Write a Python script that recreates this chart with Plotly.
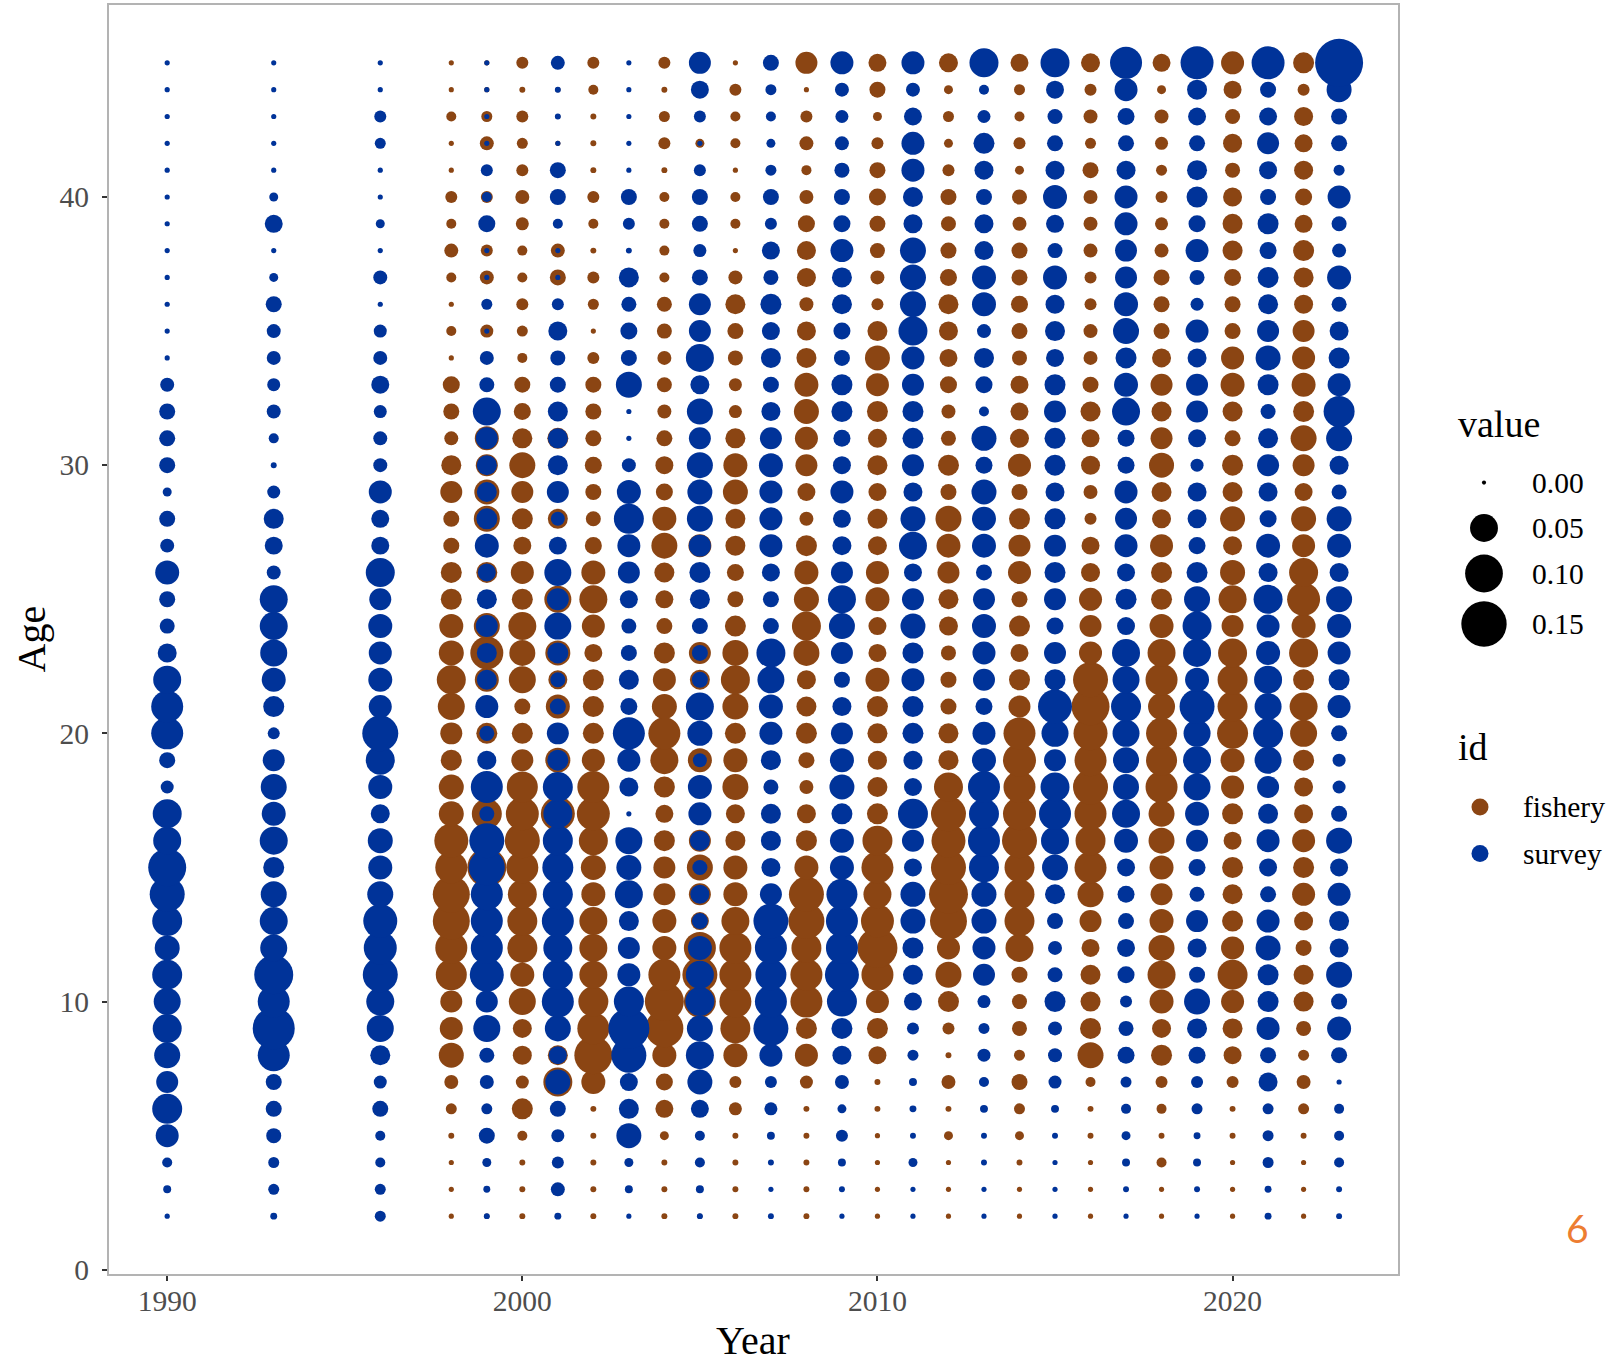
import numpy as np
import plotly.graph_objects as go

# ---------------- data ----------------
ages = list(range(2, 46))  # ages 2..45

survey_years = [1990, 1993, 1996, 1999, 2001, 2003, 2005, 2007, 2009, 2011,
                2013, 2015, 2017, 2019, 2021, 2023]
fishery_years = [1998, 1999, 2000, 2001, 2002, 2004, 2005, 2006, 2008, 2010,
                 2012, 2014, 2016, 2018, 2020, 2022]

# survey proportions at age (ages 2..45)
survey_1990 = [0.0001, 0.0013, 0.0031, 0.0315, 0.0591, 0.0282, 0.0423, 0.0547, 0.0462, 0.0591, 0.0385,
               0.0591, 0.0842, 0.1013, 0.0504, 0.0547, 0.0070, 0.0125, 0.0686, 0.0686, 0.0504, 0.0196,
               0.0105, 0.0125, 0.0349, 0.0086, 0.0125, 0.0021, 0.0125, 0.0125, 0.0125, 0.0086, 0.0001,
               0.0001, 0.0001, 0.0001, 0.0001, 0.0001, 0.0001, 0.0001, 0.0001, 0.0001, 0.0001, 0.0001]
survey_1993 = [0.0007, 0.0042, 0.0042, 0.0105, 0.0125, 0.0125, 0.0686, 0.1266, 0.0686, 0.1074, 0.0462,
               0.0504, 0.0423, 0.0252, 0.0504, 0.0349, 0.0423, 0.0282, 0.0055, 0.0252, 0.0349, 0.0462,
               0.0504, 0.0504, 0.0086, 0.0170, 0.0223, 0.0070, 0.0003, 0.0031, 0.0086, 0.0070, 0.0086,
               0.0086, 0.0125, 0.0021, 0.0001, 0.0170, 0.0021, 0.0001, 0.0001, 0.0001, 0.0001, 0.0001]
survey_1996 = [0.0042, 0.0042, 0.0031, 0.0031, 0.0125, 0.0070, 0.0223, 0.0462, 0.0504, 0.0842, 0.0736,
               0.0788, 0.0423, 0.0349, 0.0385, 0.0196, 0.0349, 0.0547, 0.0897, 0.0315, 0.0349, 0.0315,
               0.0349, 0.0282, 0.0547, 0.0170, 0.0170, 0.0315, 0.0086, 0.0086, 0.0070, 0.0170, 0.0086,
               0.0070, 0.0001, 0.0086, 0.0001, 0.0021, 0.0001, 0.0001, 0.0042, 0.0055, 0.0001, 0.0001]
survey_1999 = [0.0003, 0.0007, 0.0021, 0.0125, 0.0042, 0.0086, 0.0105, 0.0462, 0.0282, 0.0788, 0.0686,
               0.0686, 0.0686, 0.0897, 0.0842, 0.0105, 0.0686, 0.0196, 0.0105, 0.0315, 0.0223, 0.0223,
               0.0282, 0.0223, 0.0170, 0.0349, 0.0252, 0.0223, 0.0223, 0.0282, 0.0504, 0.0105, 0.0086,
               0.0001, 0.0042, 0.0001, 0.0001, 0.0147, 0.0031, 0.0055, 0.0001, 0.0001, 0.0001, 0.0001]
survey_2001 = [0.0007, 0.0086, 0.0055, 0.0070, 0.0125, 0.0385, 0.0170, 0.0423, 0.0686, 0.0591, 0.0547,
               0.0686, 0.0591, 0.0638, 0.0591, 0.0547, 0.0591, 0.0252, 0.0282, 0.0125, 0.0105, 0.0252,
               0.0462, 0.0282, 0.0462, 0.0170, 0.0086, 0.0282, 0.0223, 0.0223, 0.0223, 0.0125, 0.0105,
               0.0196, 0.0055, 0.0001, 0.0001, 0.0031, 0.0125, 0.0125, 0.0001, 0.0003, 0.0003, 0.0086]
survey_2003 = [0.0001, 0.0013, 0.0021, 0.0385, 0.0223, 0.0170, 0.0842, 0.1200, 0.0591, 0.0315, 0.0282,
               0.0223, 0.0504, 0.0385, 0.0462, 0.0001, 0.0196, 0.0315, 0.0686, 0.0147, 0.0223, 0.0125,
               0.0105, 0.0170, 0.0282, 0.0315, 0.0591, 0.0349, 0.0086, 0.0001, 0.0001, 0.0423, 0.0125,
               0.0147, 0.0105, 0.0223, 0.0003, 0.0055, 0.0125, 0.0001, 0.0001, 0.0001, 0.0001, 0.0001]
survey_2005 = [0.0003, 0.0013, 0.0031, 0.0031, 0.0170, 0.0385, 0.0504, 0.0423, 0.0547, 0.0504, 0.0349,
               0.0125, 0.0196, 0.0105, 0.0223, 0.0315, 0.0349, 0.0086, 0.0385, 0.0504, 0.0125, 0.0125,
               0.0125, 0.0223, 0.0252, 0.0282, 0.0423, 0.0385, 0.0423, 0.0282, 0.0423, 0.0196, 0.0504,
               0.0282, 0.0282, 0.0125, 0.0070, 0.0125, 0.0125, 0.0055, 0.0001, 0.0055, 0.0170, 0.0282]
survey_2007 = [0.0003, 0.0001, 0.0003, 0.0013, 0.0070, 0.0055, 0.0315, 0.0842, 0.0686, 0.0638, 0.0686,
               0.0842, 0.0282, 0.0196, 0.0223, 0.0223, 0.0105, 0.0223, 0.0315, 0.0349, 0.0462, 0.0547,
               0.0125, 0.0125, 0.0170, 0.0315, 0.0315, 0.0315, 0.0349, 0.0282, 0.0196, 0.0125, 0.0223,
               0.0170, 0.0252, 0.0105, 0.0170, 0.0055, 0.0125, 0.0042, 0.0021, 0.0031, 0.0042, 0.0125]
survey_2009 = [0.0001, 0.0003, 0.0013, 0.0055, 0.0021, 0.0086, 0.0196, 0.0252, 0.0591, 0.0788, 0.0686,
               0.0686, 0.0638, 0.0349, 0.0349, 0.0252, 0.0385, 0.0349, 0.0282, 0.0196, 0.0125, 0.0282,
               0.0423, 0.0504, 0.0282, 0.0196, 0.0170, 0.0315, 0.0170, 0.0147, 0.0252, 0.0252, 0.0125,
               0.0147, 0.0223, 0.0223, 0.0315, 0.0147, 0.0125, 0.0105, 0.0086, 0.0070, 0.0086, 0.0315]
survey_2011 = [0.0001, 0.0001, 0.0021, 0.0003, 0.0007, 0.0013, 0.0042, 0.0055, 0.0170, 0.0223, 0.0252,
               0.0385, 0.0385, 0.0170, 0.0282, 0.0591, 0.0170, 0.0196, 0.0252, 0.0252, 0.0315, 0.0252,
               0.0385, 0.0282, 0.0170, 0.0504, 0.0385, 0.0196, 0.0282, 0.0252, 0.0252, 0.0282, 0.0315,
               0.0547, 0.0423, 0.0423, 0.0423, 0.0196, 0.0223, 0.0315, 0.0315, 0.0170, 0.0086, 0.0315]
survey_2013 = [0.0001, 0.0001, 0.0003, 0.0003, 0.0013, 0.0031, 0.0070, 0.0042, 0.0070, 0.0282, 0.0315,
               0.0385, 0.0385, 0.0591, 0.0686, 0.0591, 0.0686, 0.0349, 0.0315, 0.0147, 0.0282, 0.0315,
               0.0349, 0.0282, 0.0125, 0.0349, 0.0349, 0.0385, 0.0147, 0.0385, 0.0031, 0.0147, 0.0223,
               0.0086, 0.0349, 0.0349, 0.0196, 0.0196, 0.0125, 0.0196, 0.0252, 0.0070, 0.0031, 0.0547]
survey_2015 = [0.0001, 0.0001, 0.0001, 0.0003, 0.0013, 0.0070, 0.0086, 0.0086, 0.0252, 0.0105, 0.0086,
               0.0125, 0.0223, 0.0423, 0.0504, 0.0686, 0.0547, 0.0282, 0.0462, 0.0788, 0.0252, 0.0282,
               0.0147, 0.0282, 0.0252, 0.0282, 0.0252, 0.0196, 0.0252, 0.0252, 0.0282, 0.0252, 0.0170,
               0.0223, 0.0196, 0.0349, 0.0105, 0.0170, 0.0349, 0.0196, 0.0125, 0.0105, 0.0170, 0.0547]
survey_2017 = [0.0001, 0.0003, 0.0013, 0.0021, 0.0031, 0.0042, 0.0147, 0.0105, 0.0055, 0.0147, 0.0170,
               0.0125, 0.0147, 0.0170, 0.0349, 0.0504, 0.0423, 0.0423, 0.0462, 0.0591, 0.0462, 0.0504,
               0.0170, 0.0252, 0.0170, 0.0315, 0.0282, 0.0315, 0.0147, 0.0147, 0.0504, 0.0349, 0.0252,
               0.0423, 0.0349, 0.0282, 0.0282, 0.0315, 0.0315, 0.0196, 0.0125, 0.0147, 0.0315, 0.0686]
survey_2019 = [0.0001, 0.0003, 0.0013, 0.0007, 0.0042, 0.0055, 0.0147, 0.0223, 0.0423, 0.0125, 0.0196,
               0.0282, 0.0105, 0.0147, 0.0282, 0.0349, 0.0462, 0.0504, 0.0462, 0.0842, 0.0349, 0.0504,
               0.0547, 0.0423, 0.0252, 0.0147, 0.0196, 0.0196, 0.0070, 0.0170, 0.0282, 0.0282, 0.0196,
               0.0315, 0.0070, 0.0105, 0.0315, 0.0147, 0.0252, 0.0223, 0.0125, 0.0170, 0.0223, 0.0736]
survey_2021 = [0.0007, 0.0007, 0.0042, 0.0042, 0.0042, 0.0196, 0.0125, 0.0315, 0.0252, 0.0252, 0.0385,
               0.0315, 0.0125, 0.0170, 0.0315, 0.0223, 0.0282, 0.0462, 0.0591, 0.0462, 0.0504, 0.0349,
               0.0315, 0.0547, 0.0196, 0.0349, 0.0147, 0.0196, 0.0282, 0.0223, 0.0105, 0.0252, 0.0385,
               0.0282, 0.0223, 0.0252, 0.0147, 0.0252, 0.0125, 0.0170, 0.0282, 0.0170, 0.0125, 0.0736]
survey_2023 = [0.0003, 0.0003, 0.0031, 0.0031, 0.0031, 0.0001, 0.0125, 0.0349, 0.0125, 0.0423, 0.0196,
               0.0223, 0.0315, 0.0170, 0.0423, 0.0125, 0.0070, 0.0070, 0.0125, 0.0315, 0.0252, 0.0315,
               0.0349, 0.0423, 0.0196, 0.0349, 0.0385, 0.0105, 0.0196, 0.0423, 0.0638, 0.0315, 0.0252,
               0.0196, 0.0105, 0.0349, 0.0086, 0.0105, 0.0315, 0.0042, 0.0125, 0.0125, 0.0385, 0.1699]

# fishery proportions at age (ages 2..45)
fishery_1998 = [0.0001, 0.0001, 0.0001, 0.0003, 0.0042, 0.0086, 0.0385, 0.0315, 0.0282, 0.0638, 0.0686,
                0.0954, 0.0954, 0.0686, 0.0788, 0.0385, 0.0385, 0.0252, 0.0282, 0.0462, 0.0547, 0.0385,
                0.0349, 0.0252, 0.0252, 0.0125, 0.0125, 0.0282, 0.0223, 0.0086, 0.0125, 0.0147, 0.0001,
                0.0031, 0.0001, 0.0031, 0.0086, 0.0031, 0.0055, 0.0001, 0.0001, 0.0031, 0.0001, 0.0001]
fishery_1999 = [0.0001, 0.0001, 0.0003, 0.0031, 0.0013, 0.0031, 0.0031, 0.0223, 0.0125, 0.0423, 0.0349,
                0.0349, 0.0423, 0.1074, 0.0462, 0.0591, 0.0423, 0.0105, 0.0252, 0.0170, 0.0349, 0.0736,
                0.0423, 0.0125, 0.0252, 0.0196, 0.0423, 0.0385, 0.0282, 0.0349, 0.0282, 0.0055, 0.0042,
                0.0070, 0.0021, 0.0086, 0.0055, 0.0070, 0.0055, 0.0021, 0.0086, 0.0042, 0.0001, 0.0001]
fishery_2000 = [0.0003, 0.0003, 0.0003, 0.0031, 0.0252, 0.0070, 0.0196, 0.0196, 0.0462, 0.0349, 0.0591,
                0.0591, 0.0547, 0.0686, 0.0842, 0.0736, 0.0638, 0.0282, 0.0252, 0.0125, 0.0462, 0.0423,
                0.0504, 0.0252, 0.0315, 0.0170, 0.0252, 0.0282, 0.0423, 0.0223, 0.0147, 0.0125, 0.0031,
                0.0042, 0.0055, 0.0031, 0.0031, 0.0070, 0.0086, 0.0055, 0.0042, 0.0055, 0.0003, 0.0055]
fishery_2001 = [0.0001, 0.0003, 0.0003, 0.0021, 0.0042, 0.0547, 0.0223, 0.0223, 0.0423, 0.0385, 0.0349,
                0.0423, 0.0385, 0.0423, 0.0385, 0.0788, 0.0385, 0.0385, 0.0170, 0.0349, 0.0196, 0.0385,
                0.0282, 0.0462, 0.0282, 0.0105, 0.0223, 0.0170, 0.0125, 0.0252, 0.0125, 0.0055, 0.0055,
                0.0105, 0.0021, 0.0125, 0.0086, 0.0013, 0.0055, 0.0055, 0.0001, 0.0001, 0.0001, 0.0031]
fishery_2002 = [0.0003, 0.0003, 0.0003, 0.0003, 0.0003, 0.0349, 0.1013, 0.0686, 0.0591, 0.0504, 0.0504,
                0.0504, 0.0349, 0.0385, 0.0547, 0.0736, 0.0686, 0.0315, 0.0252, 0.0252, 0.0252, 0.0170,
                0.0315, 0.0504, 0.0349, 0.0147, 0.0105, 0.0125, 0.0147, 0.0125, 0.0125, 0.0125, 0.0055,
                0.0001, 0.0042, 0.0055, 0.0003, 0.0031, 0.0055, 0.0003, 0.0003, 0.0003, 0.0031, 0.0055]
fishery_2004 = [0.0003, 0.0003, 0.0003, 0.0021, 0.0170, 0.0147, 0.0349, 0.1013, 0.1074, 0.0686, 0.0349,
                0.0349, 0.0282, 0.0282, 0.0252, 0.0170, 0.0252, 0.0504, 0.0686, 0.0385, 0.0315, 0.0252,
                0.0125, 0.0170, 0.0223, 0.0423, 0.0349, 0.0147, 0.0170, 0.0125, 0.0086, 0.0105, 0.0086,
                0.0105, 0.0105, 0.0031, 0.0031, 0.0031, 0.0031, 0.0003, 0.0055, 0.0042, 0.0003, 0.0055]
fishery_2005 = [0.0001, 0.0003, 0.0003, 0.0003, 0.0055, 0.0170, 0.0223, 0.0223, 0.0686, 0.0842, 0.0686,
                0.0170, 0.0282, 0.0423, 0.0282, 0.0170, 0.0170, 0.0349, 0.0170, 0.0223, 0.0223, 0.0282,
                0.0055, 0.0105, 0.0105, 0.0315, 0.0170, 0.0170, 0.0170, 0.0125, 0.0170, 0.0086, 0.0223,
                0.0125, 0.0125, 0.0055, 0.0021, 0.0042, 0.0042, 0.0013, 0.0021, 0.0013, 0.0055, 0.0105]
fishery_2006 = [0.0003, 0.0003, 0.0003, 0.0003, 0.0070, 0.0055, 0.0349, 0.0591, 0.0686, 0.0686, 0.0686,
                0.0504, 0.0349, 0.0349, 0.0223, 0.0196, 0.0423, 0.0349, 0.0252, 0.0423, 0.0547, 0.0423,
                0.0252, 0.0125, 0.0147, 0.0223, 0.0223, 0.0385, 0.0349, 0.0223, 0.0070, 0.0070, 0.0105,
                0.0125, 0.0223, 0.0086, 0.0001, 0.0031, 0.0031, 0.0001, 0.0031, 0.0031, 0.0055, 0.0001]
fishery_2008 = [0.0003, 0.0003, 0.0003, 0.0003, 0.0003, 0.0070, 0.0315, 0.0252, 0.0686, 0.0686, 0.0591,
                0.0897, 0.0842, 0.0349, 0.0252, 0.0196, 0.0086, 0.0125, 0.0252, 0.0223, 0.0196, 0.0423,
                0.0547, 0.0385, 0.0349, 0.0252, 0.0086, 0.0170, 0.0282, 0.0315, 0.0385, 0.0349, 0.0223,
                0.0196, 0.0086, 0.0196, 0.0196, 0.0147, 0.0086, 0.0031, 0.0086, 0.0055, 0.0001, 0.0282]
fishery_2010 = [0.0001, 0.0001, 0.0001, 0.0001, 0.0003, 0.0003, 0.0170, 0.0252, 0.0315, 0.0686, 0.1136,
                0.0736, 0.0504, 0.0686, 0.0591, 0.0252, 0.0223, 0.0196, 0.0223, 0.0252, 0.0349, 0.0170,
                0.0170, 0.0349, 0.0315, 0.0196, 0.0223, 0.0170, 0.0223, 0.0196, 0.0252, 0.0315, 0.0385,
                0.0223, 0.0055, 0.0086, 0.0105, 0.0125, 0.0147, 0.0125, 0.0055, 0.0021, 0.0125, 0.0170]
fishery_2012 = [0.0001, 0.0001, 0.0001, 0.0021, 0.0003, 0.0086, 0.0003, 0.0055, 0.0252, 0.0423, 0.0315,
                0.0954, 0.1074, 0.0842, 0.0788, 0.0842, 0.0547, 0.0223, 0.0223, 0.0125, 0.0125, 0.0105,
                0.0196, 0.0223, 0.0282, 0.0349, 0.0423, 0.0125, 0.0252, 0.0105, 0.0086, 0.0147, 0.0170,
                0.0196, 0.0223, 0.0147, 0.0125, 0.0105, 0.0125, 0.0055, 0.0021, 0.0042, 0.0021, 0.0196]
fishery_2014 = [0.0001, 0.0001, 0.0003, 0.0021, 0.0042, 0.0125, 0.0042, 0.0105, 0.0105, 0.0125, 0.0504,
                0.0591, 0.0591, 0.0591, 0.0842, 0.0736, 0.0686, 0.0736, 0.0686, 0.0282, 0.0252, 0.0170,
                0.0252, 0.0125, 0.0315, 0.0282, 0.0252, 0.0125, 0.0315, 0.0196, 0.0170, 0.0170, 0.0105,
                0.0125, 0.0147, 0.0125, 0.0125, 0.0086, 0.0105, 0.0021, 0.0055, 0.0031, 0.0042, 0.0170]
fishery_2016 = [0.0001, 0.0001, 0.0001, 0.0003, 0.0003, 0.0031, 0.0423, 0.0252, 0.0223, 0.0223, 0.0170,
                0.0282, 0.0423, 0.0686, 0.0591, 0.0686, 0.0842, 0.0686, 0.0788, 0.1013, 0.0842, 0.0315,
                0.0282, 0.0315, 0.0196, 0.0170, 0.0055, 0.0086, 0.0196, 0.0170, 0.0223, 0.0125, 0.0086,
                0.0086, 0.0055, 0.0055, 0.0086, 0.0086, 0.0086, 0.0125, 0.0042, 0.0086, 0.0055, 0.0196]
fishery_2018 = [0.0001, 0.0001, 0.0031, 0.0003, 0.0031, 0.0055, 0.0252, 0.0196, 0.0349, 0.0504, 0.0423,
                0.0349, 0.0282, 0.0349, 0.0423, 0.0423, 0.0686, 0.0638, 0.0638, 0.0462, 0.0686, 0.0504,
                0.0349, 0.0252, 0.0252, 0.0315, 0.0196, 0.0223, 0.0385, 0.0282, 0.0223, 0.0282, 0.0196,
                0.0125, 0.0125, 0.0125, 0.0086, 0.0070, 0.0055, 0.0042, 0.0070, 0.0086, 0.0021, 0.0170]
fishery_2020 = [0.0001, 0.0001, 0.0001, 0.0003, 0.0003, 0.0055, 0.0170, 0.0223, 0.0315, 0.0591, 0.0315,
                0.0252, 0.0223, 0.0252, 0.0170, 0.0252, 0.0315, 0.0349, 0.0638, 0.0591, 0.0591, 0.0547,
                0.0282, 0.0504, 0.0385, 0.0196, 0.0385, 0.0223, 0.0252, 0.0125, 0.0223, 0.0349, 0.0315,
                0.0125, 0.0125, 0.0147, 0.0223, 0.0223, 0.0196, 0.0105, 0.0196, 0.0105, 0.0170, 0.0315]
fishery_2022 = [0.0001, 0.0001, 0.0001, 0.0003, 0.0042, 0.0086, 0.0042, 0.0105, 0.0223, 0.0223, 0.0125,
                0.0196, 0.0315, 0.0252, 0.0315, 0.0196, 0.0196, 0.0252, 0.0462, 0.0504, 0.0252, 0.0547,
                0.0349, 0.0736, 0.0547, 0.0315, 0.0385, 0.0170, 0.0282, 0.0423, 0.0252, 0.0349, 0.0315,
                0.0282, 0.0196, 0.0223, 0.0252, 0.0170, 0.0147, 0.0196, 0.0170, 0.0196, 0.0055, 0.0252]

survey_series = [survey_1990, survey_1993, survey_1996, survey_1999, survey_2001, survey_2003,
                 survey_2005, survey_2007, survey_2009, survey_2011, survey_2013, survey_2015,
                 survey_2017, survey_2019, survey_2021, survey_2023]
fishery_series = [fishery_1998, fishery_1999, fishery_2000, fishery_2001, fishery_2002, fishery_2004,
                  fishery_2005, fishery_2006, fishery_2008, fishery_2010, fishery_2012, fishery_2014,
                  fishery_2016, fishery_2018, fishery_2020, fishery_2022]

legend_values = [0.00, 0.05, 0.10, 0.15]
legend_labels = ["0.00", "0.05", "0.10", "0.15"]
id_labels = ["fishery", "survey"]
x_ticks = [1990, 2000, 2010, 2020]
y_ticks = [0, 10, 20, 30, 40]

for s in survey_series + fishery_series:
    assert len(s) == len(ages)

# ---------------- layout geometry ----------------
W = 1621
FIG_H = 1372                 # page is photographed slightly squeezed vertically
SY = FIG_H / 1360.0          # layout positions below are given on a 1621x1360 frame


def Y(v):
    return v * SY


PL, PR, PT, PB = 108.6, 1397.7, Y(5.2), Y(1273.8)
BROWN = "#8B4513"
BLUE = "#003399"
SERIF = "Liberation Serif, Times New Roman, serif"


def size_of(v):
    # area-proportional bubble scale (diameter in px)
    return 4.1 + 106.5 * np.sqrt(np.asarray(v, dtype=float))


def long_form(years, series):
    xs, ys, vs = [], [], []
    for yr, vals in zip(years, series):
        for a, v in zip(ages, vals):
            xs.append(yr)
            ys.append(a)
            vs.append(v)
    return xs, ys, vs


fx, fy, fv = long_form(fishery_years, fishery_series)
sx, sy, sv = long_form(survey_years, survey_series)

fig = go.Figure()
fig.add_trace(go.Scatter(x=fx, y=fy, mode="markers", name="fishery",
                         marker=dict(color=BROWN, size=size_of(fv).tolist(), sizemode="diameter",
                                     opacity=1, line=dict(width=0)),
                         customdata=fv,
                         hovertemplate="Year %{x}<br>Age %{y}<br>value %{customdata}<extra>fishery</extra>"))
fig.add_trace(go.Scatter(x=sx, y=sy, mode="markers", name="survey",
                         marker=dict(color=BLUE, size=size_of(sv).tolist(), sizemode="diameter",
                                     opacity=1, line=dict(width=0)),
                         customdata=sv,
                         hovertemplate="Year %{x}<br>Age %{y}<br>value %{customdata}<extra>survey</extra>"))

# legend keys drawn on an overlay pixel-coordinate axis
leg_rows_y = [Y(482.6), Y(528.0), Y(573.5), Y(624.0)]
id_rows_y = [Y(807.0), Y(853.6)]
fig.add_trace(go.Scatter(x=[1484] * len(legend_values), y=leg_rows_y, mode="markers",
                         marker=dict(color="#000000", opacity=1, size=size_of(legend_values).tolist(),
                                     line=dict(width=0)),
                         xaxis="x2", yaxis="y2", showlegend=False, hoverinfo="skip", cliponaxis=False))
fig.add_trace(go.Scatter(x=[1480, 1480], y=id_rows_y, mode="markers",
                         marker=dict(color=[BROWN, BLUE], opacity=1, size=17, line=dict(width=0)),
                         xaxis="x2", yaxis="y2", showlegend=False, hoverinfo="skip", cliponaxis=False))

ann = []
for lab, yy in zip(legend_labels, leg_rows_y):
    ann.append(dict(x=1530, y=yy, xref="x2", yref="y2", text=lab, showarrow=False,
                    xanchor="left", yanchor="middle", font=dict(family=SERIF, size=29.5, color="black")))
for lab, yy in zip(id_labels, id_rows_y):
    ann.append(dict(x=1521, y=yy, xref="x2", yref="y2", text=lab, showarrow=False,
                    xanchor="left", yanchor="middle", font=dict(family=SERIF, size=29.5, color="black")))
ann.append(dict(x=1456, y=Y(423.7), xref="x2", yref="y2", text="value", showarrow=False,
                xanchor="left", yanchor="middle", font=dict(family=SERIF, size=38, color="black")))
ann.append(dict(x=1456, y=Y(747.0), xref="x2", yref="y2", text="id", showarrow=False,
                xanchor="left", yanchor="middle", font=dict(family=SERIF, size=38, color="black")))
ann.append(dict(x=(PL + PR) / 2, y=Y(1340.3), xref="x2", yref="y2", text="Year", showarrow=False,
                xanchor="center", yanchor="middle", font=dict(family=SERIF, size=40, color="black")))
ann.append(dict(x=31, y=(PT + PB) / 2, xref="x2", yref="y2", text="Age", showarrow=False, textangle=-90,
                xanchor="center", yanchor="middle", font=dict(family=SERIF, size=40, color="black")))
ann.append(dict(x=1577, y=Y(1227.7), xref="x2", yref="y2", text="6", showarrow=False,
                xanchor="center", yanchor="middle",
                font=dict(family="Lato, Open Sans, sans-serif", size=39, color="#ED7D31")))

axis_common = dict(showgrid=False, zeroline=False, showline=True, mirror=True,
                   linecolor="#B3B3B3", linewidth=1.5, ticks="outside", ticklen=5,
                   tickwidth=1.5, tickcolor="#333333",
                   tickfont=dict(family=SERIF, size=29.5, color="#4D4D4D"))

fig.update_layout(
    width=W, height=FIG_H, autosize=False,
    margin=dict(l=0, r=0, t=0, b=0, pad=0),
    paper_bgcolor="white", plot_bgcolor="rgba(0,0,0,0)",
    showlegend=False,
    xaxis=dict(domain=[PL / W, PR / W], range=[1988.35, 2024.65], tickvals=x_ticks,
               anchor="y", ticklabelstandoff=-5, **axis_common),
    yaxis=dict(domain=[1 - PB / FIG_H, 1 - PT / FIG_H], range=[-0.15, 47.15], tickvals=y_ticks,
               anchor="x", ticklabelstandoff=7, **axis_common),
    xaxis2=dict(domain=[0, 1], range=[0, W], visible=False, anchor="y2", fixedrange=True),
    yaxis2=dict(domain=[0, 1], range=[FIG_H, 0], visible=False, anchor="x2", fixedrange=True),
    annotations=ann,
)

fig.write_html("out.html", config={"displayModeBar": False},
               post_script="document.body.style.margin='0';document.body.style.overflow='hidden';")
